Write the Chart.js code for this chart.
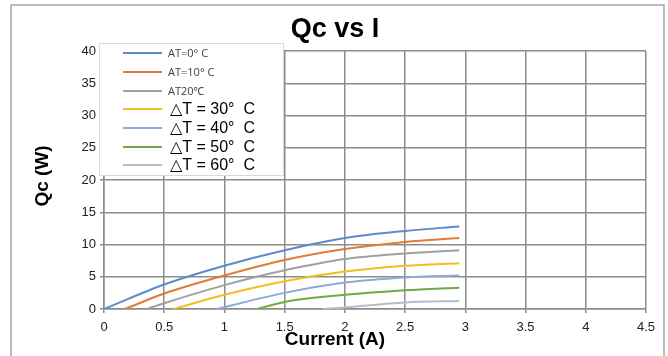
<!DOCTYPE html>
<html>
<head>
<meta charset="utf-8">
<script src="https://cdn.jsdelivr.net/npm/chart.js@4/dist/chart.umd.min.js"></script>
<style>
html,body{margin:0;padding:0;background:#fff;}
canvas{display:block;}
</style>
</head>
<body>
<canvas id="c" width="668" height="356"></canvas>
<script>
// ---- Data ----
const chartTitle = "Qc vs I";
const xAxisTitle = "Current (A)";
const yAxisTitle = "Qc (W)";

const seriesLabels = ["AT=0° C", "AT=10° C", "AT20℃", "△T = 30°  C", "△T = 40°  C", "△T = 50°  C", "△T = 60°  C"];

const current0  = [0, 0.5, 1, 1.5, 2, 2.5, 2.95];
const qc0       = [0, 3.8, 6.7, 9.1, 11.0, 12.1, 12.8];

const current10 = [0.175, 0.5, 1, 1.5, 2, 2.5, 2.95];
const qc10      = [0, 2.4, 5.2, 7.6, 9.3, 10.4, 11.0];

const current20 = [0.355, 0.5, 1, 1.5, 2, 2.5, 2.95];
const qc20      = [0, 0.9, 3.7, 6.0, 7.75, 8.6, 9.1];

const current30 = [0.575, 1, 1.5, 2, 2.5, 2.95];
const qc30      = [0, 2.2, 4.3, 5.8, 6.7, 7.1];

const current40 = [0.935, 1.5, 2, 2.5, 2.95];
const qc40      = [0, 2.5, 4.1, 4.9, 5.2];

const current50 = [1.27, 1.5, 2, 2.5, 2.95];
const qc50      = [0, 1.1, 2.2, 2.9, 3.3];

const current60 = [1.82, 2, 2.5, 2.95];
const qc60      = [0, 0.25, 1.0, 1.25];

const xTicks = {min: 0, max: 4.5, step: 0.5};
const yTicks = {min: 0, max: 40, step: 5};

const seriesColors = ["#5B8CC9", "#E27B36", "#A0A0A0", "#F2BE1E", "#8EA9DB", "#6FAA46", "#B3BDCC"];

// ---- Build datasets ----
const currents = [current0, current10, current20, current30, current40, current50, current60];
const qcs = [qc0, qc10, qc20, qc30, qc40, qc50, qc60];
const datasets = seriesLabels.map((lab, i) => ({
  label: lab,
  data: currents[i].map((x, j) => ({x: x, y: qcs[i][j]})),
  borderColor: seriesColors[i],
  backgroundColor: seriesColors[i],
  borderWidth: 2,
  pointRadius: 0,
  fill: false,
  cubicInterpolationMode: 'monotone'
}));

const gridColor = '#8c8c8c';

const decorPlugin = {
  id: 'decor',
  beforeDraw(chart) {
    const ctx = chart.ctx;
    ctx.save();
    ctx.fillStyle = '#fff';
    ctx.fillRect(0, 0, chart.width, chart.height);
    ctx.strokeStyle = '#a6a6a6';
    ctx.lineWidth = 1.5;
    ctx.strokeRect(11, 5, 653, 370);
    ctx.restore();
  },
  afterDraw(chart) {
    const ctx = chart.ctx;
    ctx.save();
    // title
    ctx.fillStyle = '#000';
    ctx.font = "bold 27px 'Liberation Sans', Arial, sans-serif";
    ctx.textAlign = 'center';
    ctx.textBaseline = 'middle';
    ctx.fillText(chartTitle, 335, 30);
    // x title
    ctx.font = "bold 19px 'Liberation Sans', Arial, sans-serif";
    ctx.fillText(xAxisTitle, 335, 340);
    // y title
    ctx.save();
    ctx.translate(43, 176);
    ctx.rotate(-Math.PI / 2);
    ctx.fillText(yAxisTitle, 0, 0);
    ctx.restore();

    // legend box
    const bx = 99.5, by = 43.5, bw = 184, bh = 132;
    ctx.fillStyle = '#fff';
    ctx.fillRect(bx, by, bw, bh);
    ctx.strokeStyle = '#d9d9d9';
    ctx.lineWidth = 1;
    ctx.strokeRect(bx, by, bw, bh);
    const rowsY = [53, 72, 91, 109, 128, 147, 165];
    chart.data.datasets.forEach((ds, i) => {
      const y = rowsY[i];
      ctx.strokeStyle = ds.borderColor;
      ctx.lineWidth = 2;
      ctx.beginPath();
      ctx.moveTo(123, y);
      ctx.lineTo(162, y);
      ctx.stroke();
      ctx.textAlign = 'left';
      ctx.textBaseline = 'middle';
      if (i < 3) {
        ctx.font = "11px 'Open Sans', 'Noto Sans', sans-serif";
        ctx.fillStyle = '#404040';
        ctx.fillText(ds.label, 168, y + 1);
      } else {
        ctx.font = "16px 'Liberation Sans', Arial, 'DejaVu Sans', sans-serif";
        ctx.fillStyle = '#000';
        ctx.fillText(ds.label, 170, y + 1);
      }
    });
    ctx.restore();
  }
};

const fmt = v => String(Number(Number(v).toFixed(2)));

new Chart(document.getElementById('c'), {
  type: 'line',
  data: { datasets: datasets },
  options: {
    responsive: false,
    animation: false,
    layout: { padding: { left: 0, top: 51, right: 22, bottom: 0 } },
    plugins: { legend: { display: false }, title: { display: false }, tooltip: { enabled: false } },
    scales: {
      x: {
        type: 'linear',
        min: xTicks.min, max: xTicks.max,
        ticks: { stepSize: xTicks.step, color: '#222', padding: 7, maxRotation: 0,
                 callback: fmt,
                 font: { family: "'Liberation Sans', Arial, sans-serif", size: 13 } },
        grid: { color: gridColor, lineWidth: 1.5, tickLength: 4 },
        border: { color: gridColor, width: 1.5 },
        afterFit(scale) { scale.height = 47; }
      },
      y: {
        min: yTicks.min, max: yTicks.max,
        ticks: { stepSize: yTicks.step, color: '#222', padding: 4,
                 callback: fmt,
                 font: { family: "'Liberation Sans', Arial, sans-serif", size: 13 } },
        grid: { color: gridColor, lineWidth: 1.5, tickLength: 4 },
        border: { color: gridColor, width: 1.5 },
        afterFit(scale) { scale.width = 104; }
      }
    }
  },
  plugins: [decorPlugin]
});
</script>
</body>
</html>
